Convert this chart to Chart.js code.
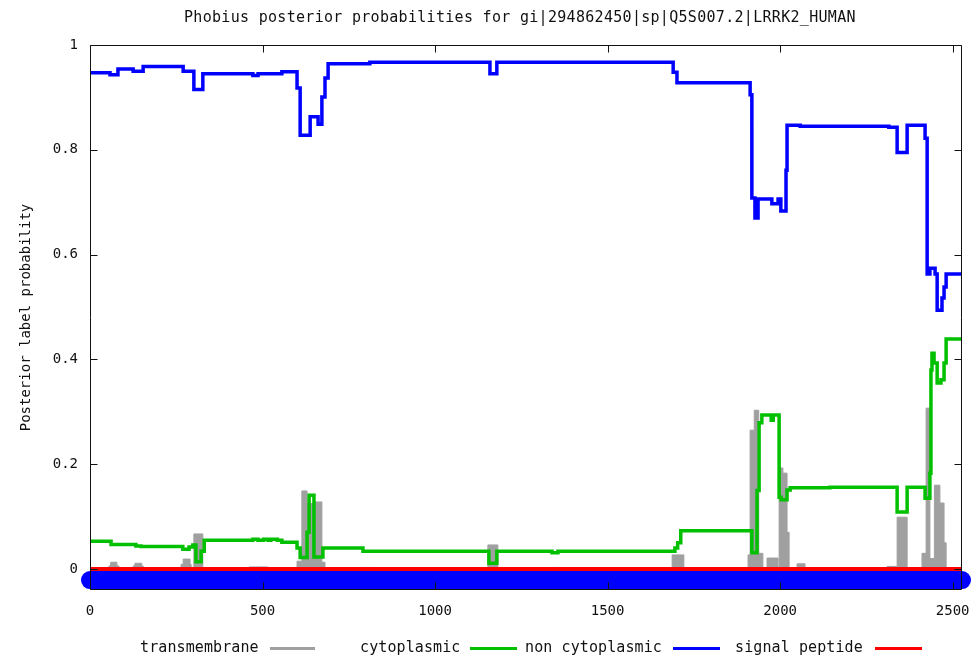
<!DOCTYPE html>
<html><head><meta charset="utf-8">
<script src="https://cdn.jsdelivr.net/npm/chart.js@4.4.1/dist/chart.umd.min.js"></script>
<style>
html,body{margin:0;padding:0;background:#fff;}
#wrap{position:relative;width:979px;height:661px;overflow:hidden;background:#fff;}
canvas{position:absolute;left:0;top:0;}
.t{position:absolute;font-family:"DejaVu Sans Mono",monospace;color:#111;white-space:pre;line-height:1;}
.ln{position:absolute;height:3px;}
</style></head><body>
<div id="wrap">
<canvas id="c" width="979" height="661"></canvas>
<div class="t" style="left:184px;top:10px;font-size:15px;letter-spacing:0.3px;">Phobius posterior probabilities for gi|294862450|sp|Q5S007.2|LRRK2_HUMAN</div>
<div class="t" style="left:140px;top:640px;font-size:15px;letter-spacing:0.1px;">transmembrane</div>
<div class="ln" style="left:270px;top:647px;width:45px;background:#a0a0a0;"></div>
<div class="t" style="left:360px;top:640px;font-size:15px;letter-spacing:0.1px;">cytoplasmic</div>
<div class="ln" style="left:470px;top:647px;width:47px;background:#00c000;"></div>
<div class="t" style="left:525px;top:640px;font-size:15px;letter-spacing:0.1px;">non cytoplasmic</div>
<div class="ln" style="left:673px;top:647px;width:47px;background:#0000ff;"></div>
<div class="t" style="left:735px;top:640px;font-size:15px;letter-spacing:0.1px;">signal peptide</div>
<div class="ln" style="left:875px;top:647px;width:47px;background:#ff0000;"></div>
</div>
<script>
// ---- data ----
const seqLength = 2527;
const xTicks = [0, 500, 1000, 1500, 2000, 2500];
const xTickLabels = ['0', '500', '1000', '1500', '2000', '2500'];
const yTicks = [0, 0.2, 0.4, 0.6, 0.8, 1];
const yTickLabels = ['0', '0.2', '0.4', '0.6', '0.8', '1'];

// non cytoplasmic (blue), step values starting at each position
const nonCytoX = [0,58,81,125,154,270,301,327,472,487,556,600,609,638,661,672,681,690,811,1159,1179,1690,1701,1913,1918,1927,1936,1976,1994,2002,2017,2020,2058,2315,2339,2368,2420,2426,2434,2449,2455,2469,2475,2481,2527];
const nonCytoY = [0.947,0.943,0.954,0.950,0.959,0.950,0.915,0.945,0.942,0.945,0.949,0.918,0.828,0.863,0.849,0.901,0.937,0.964,0.967,0.945,0.967,0.948,0.928,0.905,0.708,0.670,0.706,0.697,0.706,0.683,0.761,0.847,0.845,0.843,0.795,0.847,0.822,0.563,0.574,0.563,0.494,0.517,0.538,0.563,0.563];

// cytoplasmic (green)
const cytoX = [0,61,133,148,269,287,298,307,322,331,472,487,503,516,524,543,556,600,609,629,635,649,675,791,1156,1179,1339,1356,1695,1703,1712,1918,1933,1939,1947,1974,1980,1997,2003,2020,2029,2144,2339,2368,2420,2434,2437,2440,2446,2455,2466,2475,2481,2527];
const cytoY = [0.053,0.047,0.044,0.043,0.038,0.042,0.046,0.014,0.034,0.055,0.057,0.055,0.057,0.055,0.057,0.055,0.051,0.040,0.022,0.070,0.141,0.023,0.040,0.034,0.011,0.034,0.031,0.034,0.040,0.050,0.073,0.031,0.150,0.279,0.294,0.284,0.294,0.137,0.132,0.151,0.155,0.156,0.109,0.156,0.135,0.183,0.380,0.412,0.393,0.355,0.361,0.393,0.439,0.439];

// transmembrane (grey)
const tmX = [0,55,60,78,84,125,130,150,154,264,270,290,293,301,327,461,516,600,614,629,649,672,681,791,817,1153,1182,1339,1356,1687,1721,1907,1913,1925,1938,1950,1962,1994,1997,2008,2020,2026,2049,2072,2310,2339,2368,2411,2423,2434,2447,2463,2475,2481,2527];
const tmY = [0,0.006,0.013,0.006,0,0.006,0.011,0.006,0,0.009,0.019,0.009,0,0.067,0,0.004,0,0.015,0.149,0.125,0.128,0.013,0,0.003,0,0.046,0,0.003,0,0.027,0,0.027,0.265,0.303,0.030,0,0.021,0,0.193,0.183,0.070,0,0.010,0,0.005,0.099,0,0.030,0.307,0.020,0.160,0.126,0.050,0,0];

// signal peptide (red)
const signalX = [0, 2527];
const signalY = [0, 0];

// predicted topology bar (non cytoplasmic over whole sequence)
const topologyX = [0, 2527];
const topologyY = [-0.021, -0.021];

function toPoints(xs, ys) { return xs.map((x, i) => ({ x: x, y: ys[i] })); }

const FONT = '"DejaVu Sans Mono", monospace';

const framePlugin = {
  id: 'frame',
  afterDatasetsDraw(chart) {
    const { ctx, chartArea: a, scales } = chart;
    const x = scales.x, y = scales.y;
    ctx.save();
    ctx.strokeStyle = '#111';
    ctx.lineWidth = 1;
    const L = Math.round(a.left) + 0.5, R = Math.round(a.right) - 0.5;
    const T = Math.round(a.top) + 0.5, B = Math.round(a.bottom) - 0.5;
    ctx.beginPath();
    ctx.rect(L, T, R - L, B - T);
    yTicks.forEach(v => {
      const p = Math.round(y.getPixelForValue(v)) + 0.5;
      ctx.moveTo(L, p); ctx.lineTo(L + 7, p);
      ctx.moveTo(R, p); ctx.lineTo(R - 7, p);
    });
    xTicks.forEach(v => {
      const p = Math.round(x.getPixelForValue(v)) + 0.5;
      ctx.moveTo(p, B); ctx.lineTo(p, B - 7);
      ctx.moveTo(p, T); ctx.lineTo(p, T + 7);
    });
    ctx.stroke();
    ctx.restore();
  }
};

new Chart(document.getElementById('c'), {
  type: 'line',
  data: {
    datasets: [
      { label: 'non cytoplasmic', data: toPoints(nonCytoX, nonCytoY), borderColor: '#0000ff', borderWidth: 3.5, stepped: true, pointRadius: 0, fill: false, order: 1 },
      { label: 'cytoplasmic', data: toPoints(cytoX, cytoY), borderColor: '#00c000', borderWidth: 3.5, stepped: true, pointRadius: 0, fill: false, order: 2 },
      { label: 'signal peptide', data: toPoints(signalX, signalY), borderColor: '#ff0000', borderWidth: 4, pointRadius: 0, fill: false, order: 3 },
      { label: 'transmembrane', data: toPoints(tmX, tmY), borderColor: '#a0a0a0', backgroundColor: '#a0a0a0', borderWidth: 1, stepped: true, pointRadius: 0, fill: 'origin', order: 4 },
      { label: 'topology', data: toPoints(topologyX, topologyY), borderColor: '#0000ff', borderWidth: 18, borderCapStyle: 'round', pointRadius: 0, fill: false, clip: false, order: 5 }
    ]
  },
  options: {
    responsive: false,
    animation: false,
    events: [],
    layout: { padding: { top: 45, right: 17, bottom: 0, left: 0 } },
    plugins: { legend: { display: false }, tooltip: { enabled: false }, title: { display: false } },
    scales: {
      x: {
        type: 'linear', min: 0, max: seqLength,
        grid: { display: false, drawTicks: false }, border: { display: false },
        afterBuildTicks(s) { s.ticks = xTicks.map(v => ({ value: v })); },
        afterFit(s) { s.height = 71; s.paddingLeft = 0; s.paddingRight = 0; },
        ticks: { callback: (v, i) => xTickLabels[i], padding: 13, color: '#111', font: { family: FONT, size: 14 }, maxRotation: 0, autoSkip: false }
      },
      y: {
        type: 'linear', min: -0.04, max: 1,
        grid: { display: false, drawTicks: false }, border: { display: false },
        afterBuildTicks(s) { s.ticks = yTicks.map(v => ({ value: v })); },
        afterFit(s) { s.width = 90; s.paddingTop = 0; s.paddingBottom = 0; },
        ticks: { callback: (v, i) => yTickLabels[i], padding: 12, color: '#111', font: { family: FONT, size: 14 }, autoSkip: false },
        title: { display: true, text: 'Posterior label probability', color: '#111', font: { family: FONT, size: 14 }, padding: { top: 17.5, bottom: 0 } }
      }
    }
  },
  plugins: [framePlugin]
});
</script>
</body></html>
